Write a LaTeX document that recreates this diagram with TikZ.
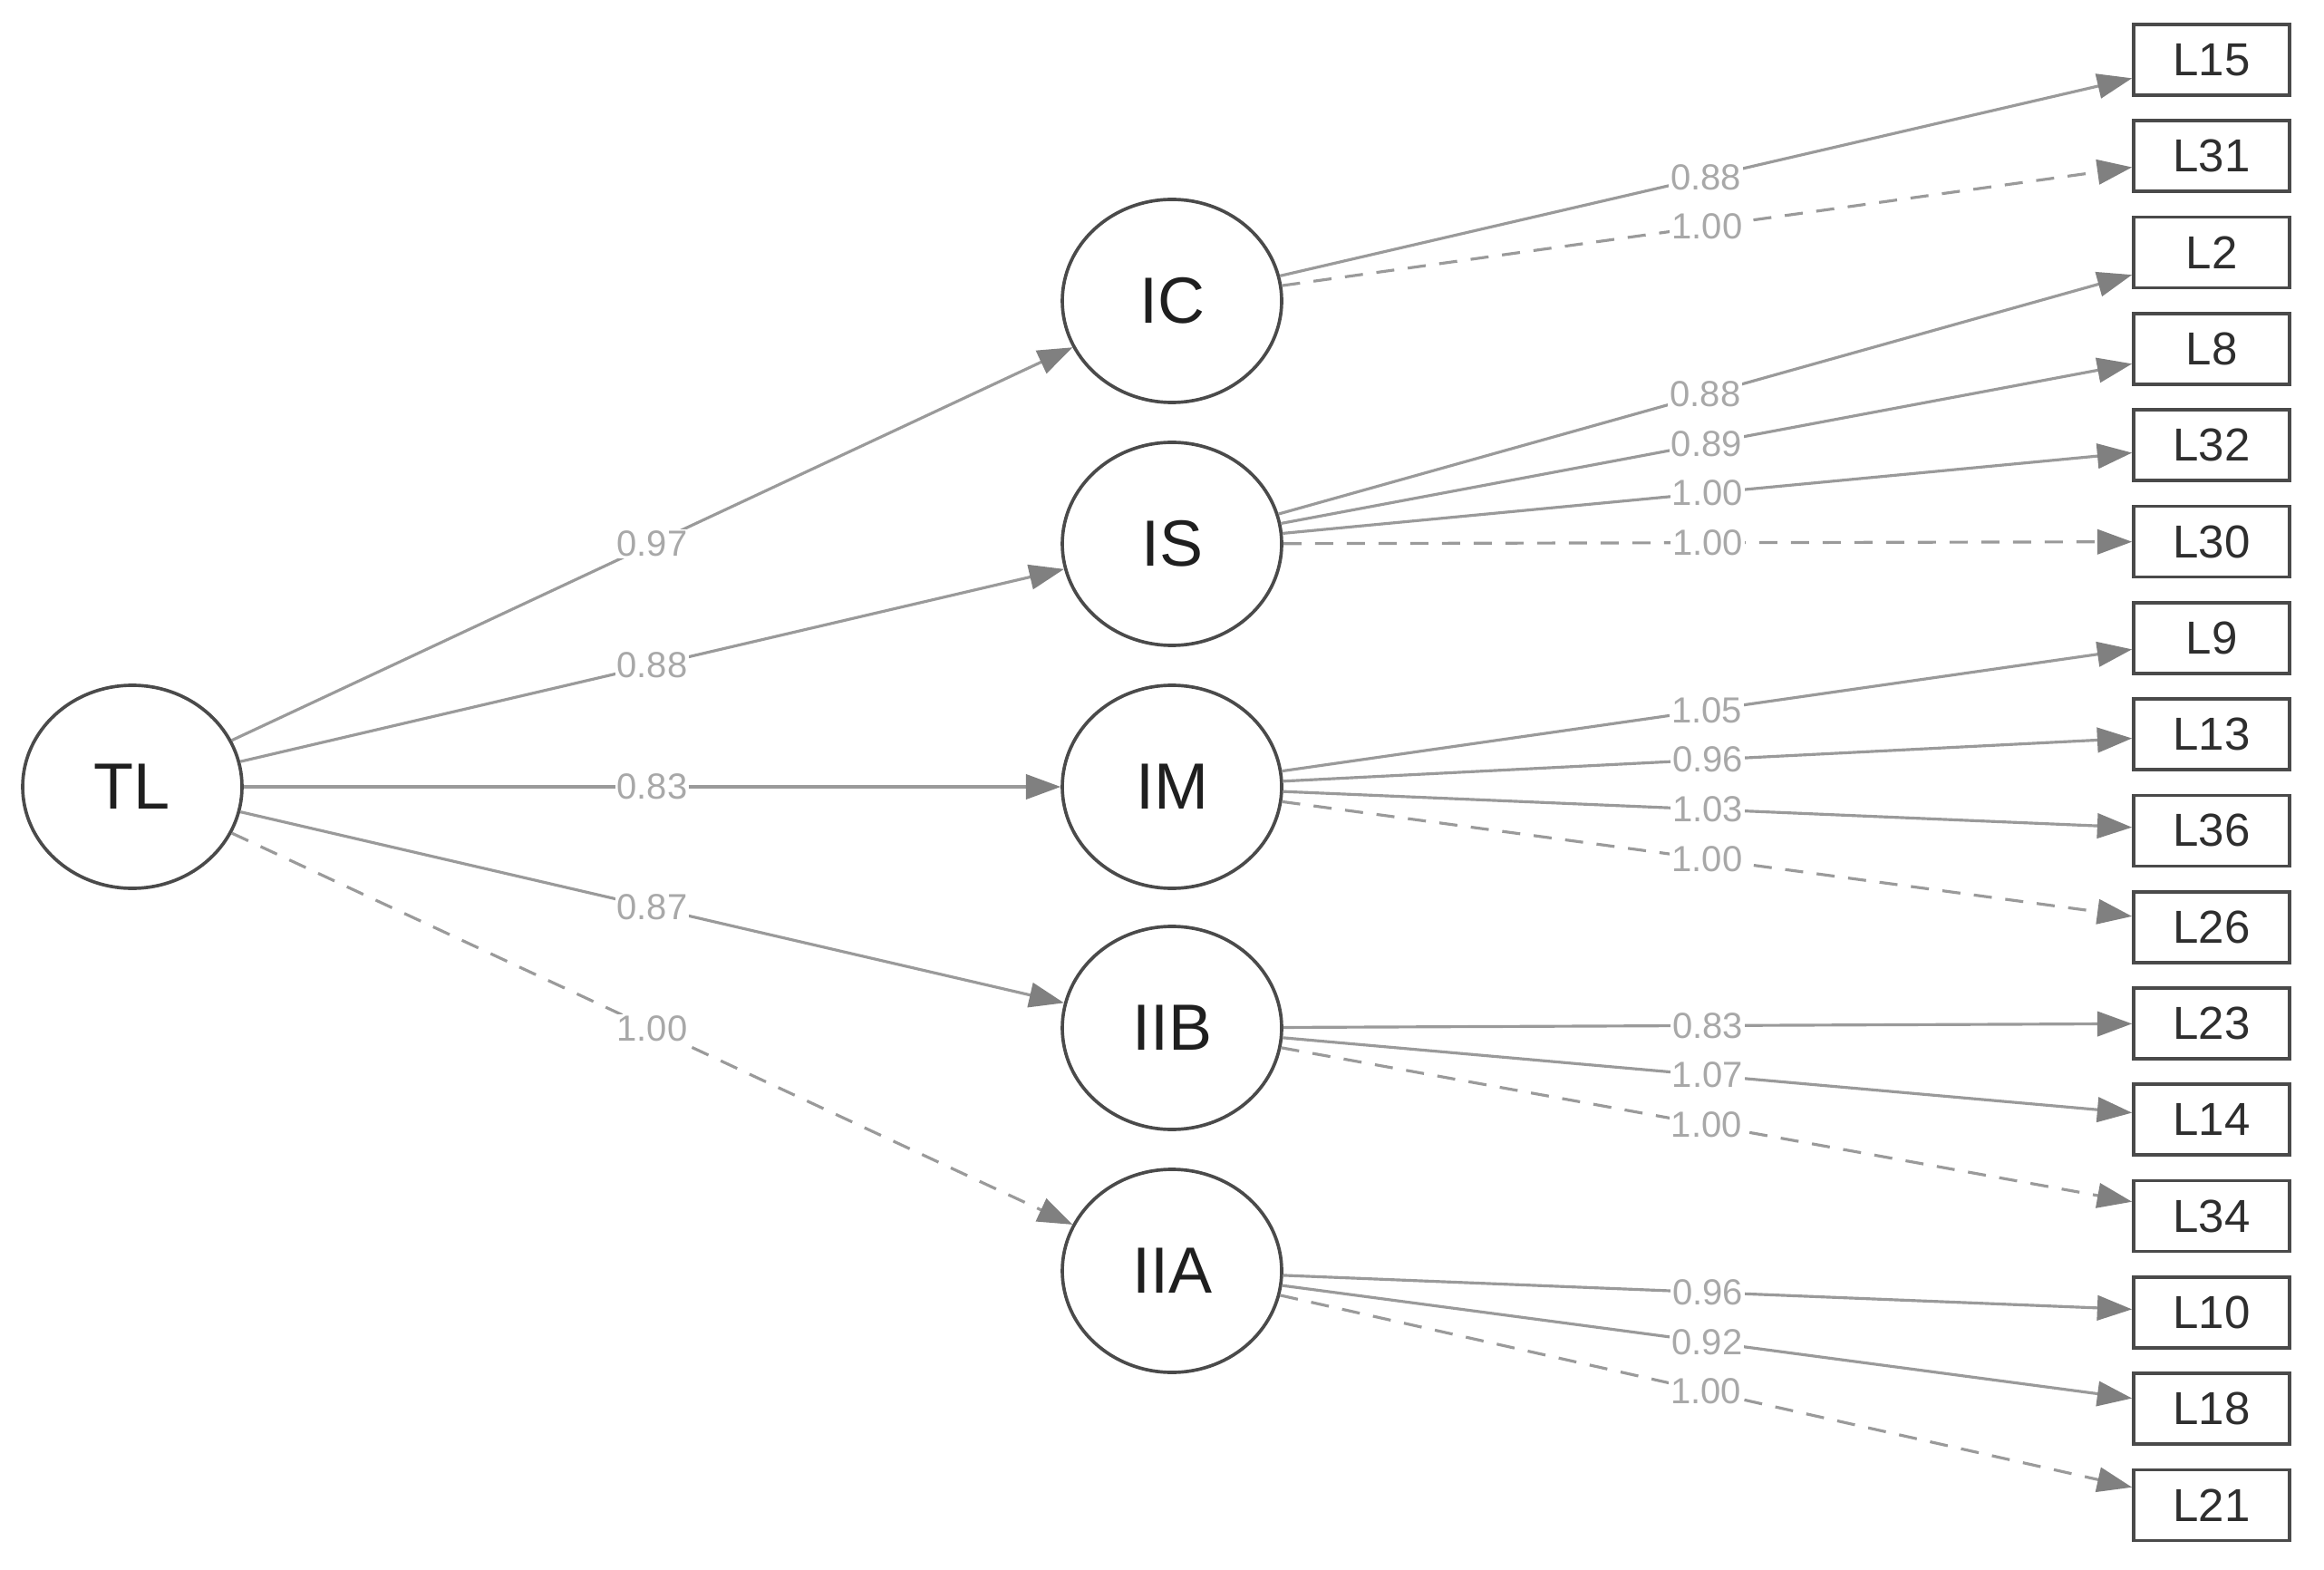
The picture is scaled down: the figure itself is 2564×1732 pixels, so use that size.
\documentclass[tikz,border=0pt]{standalone}
\usepackage{fontspec}
\setmainfont{Liberation Sans}
\usetikzlibrary{shapes.geometric,arrows.meta}
\definecolor{edgegray}{HTML}{9A9A9A}
\definecolor{tipgray}{HTML}{808080}
\definecolor{labgray}{HTML}{A8A8A8}
\definecolor{outlinegray}{HTML}{4A4A4A}
\begin{document}
\begin{tikzpicture}[x=0.3pt,y=-0.3pt,
  latent/.style={ellipse, draw=outlinegray, line width=1.1pt, minimum width=72.6pt, minimum height=67.2pt, inner sep=0pt, font=\fontsize{21.6}{24}\selectfont, text=black!88},
  manifest/.style={rectangle, draw=outlinegray, line width=1.1pt, minimum width=51.6pt, minimum height=23.4pt, inner sep=0pt, font=\fontsize{15.3}{18}\selectfont, text=black!82},
  load/.style={draw=edgegray, line width=0.95pt, -{Triangle[length=11.5pt,width=8.2pt,fill=tipgray,color=tipgray]}},
  fixedload/.style={load, dash pattern=on 6pt off 4.5pt},
  lab/.style={fill=white, inner sep=0.6pt, text=labgray, font=\fontsize{12}{14}\selectfont}
]
\useasboundingbox (0,0) rectangle (2564,1732);

\node[latent] (TL) at (146,868) {TL};
\node[latent] (IC) at (1293,332) {IC};
\node[latent] (IS) at (1293,600) {IS};
\node[latent] (IM) at (1293,868) {IM};
\node[latent] (IIB) at (1293,1134) {IIB};
\node[latent] (IIA) at (1293,1402) {IIA};

\node[manifest] (L15) at (2440,66.0) {L15};
\node[manifest] (L31) at (2440,172.3) {L31};
\node[manifest] (L2)  at (2440,278.6) {L2};
\node[manifest] (L8)  at (2440,384.9) {L8};
\node[manifest] (L32) at (2440,491.2) {L32};
\node[manifest] (L30) at (2440,597.5) {L30};
\node[manifest] (L9)  at (2440,703.8) {L9};
\node[manifest] (L13) at (2440,810.1) {L13};
\node[manifest] (L36) at (2440,916.4) {L36};
\node[manifest] (L26) at (2440,1022.7) {L26};
\node[manifest] (L23) at (2440,1129.0) {L23};
\node[manifest] (L14) at (2440,1235.3) {L14};
\node[manifest] (L34) at (2440,1341.6) {L34};
\node[manifest] (L10) at (2440,1447.9) {L10};
\node[manifest] (L18) at (2440,1554.2) {L18};
\node[manifest] (L21) at (2440,1660.5) {L21};

\draw[load] (TL) -- node[lab]{0.97} (IC);
\draw[load] (TL) -- node[lab]{0.88} (IS);
\draw[load] (TL) -- node[lab]{0.83} (IM);
\draw[load] (TL) -- node[lab]{0.87} (IIB);
\draw[fixedload] (TL) -- node[lab]{1.00} (IIA);

\draw[load] (IC) -- node[lab]{0.88} (L15);
\draw[fixedload] (IC) -- node[lab]{1.00} (L31);

\draw[load] (IS) -- node[lab]{0.88} (L2);
\draw[load] (IS) -- node[lab]{0.89} (L8);
\draw[load] (IS) -- node[lab]{1.00} (L32);
\draw[fixedload] (IS) -- node[lab]{1.00} (L30);

\draw[load] (IM) -- node[lab]{1.05} (L9);
\draw[load] (IM) -- node[lab]{0.96} (L13);
\draw[load] (IM) -- node[lab]{1.03} (L36);
\draw[fixedload] (IM) -- node[lab]{1.00} (L26);

\draw[load] (IIB) -- node[lab]{0.83} (L23);
\draw[load] (IIB) -- node[lab]{1.07} (L14);
\draw[fixedload] (IIB) -- node[lab]{1.00} (L34);

\draw[load] (IIA) -- node[lab]{0.96} (L10);
\draw[load] (IIA) -- node[lab]{0.92} (L18);
\draw[fixedload] (IIA) -- node[lab]{1.00} (L21);
\end{tikzpicture}
\end{document}
